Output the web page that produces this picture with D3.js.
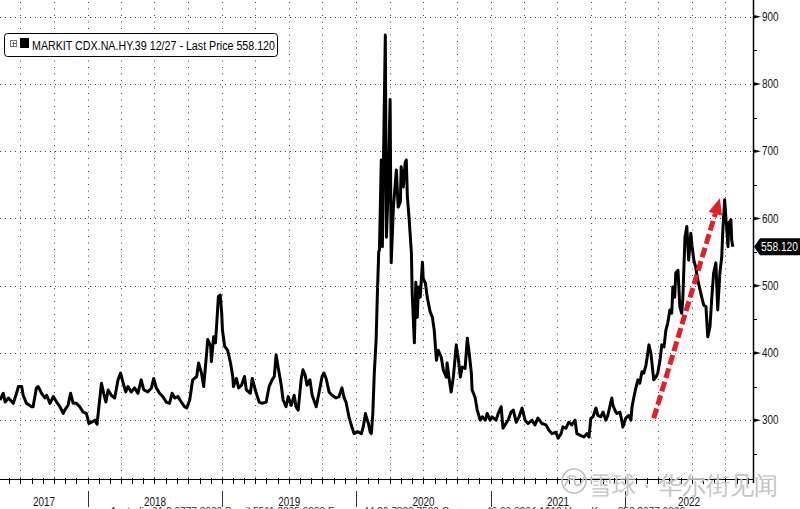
<!DOCTYPE html>
<html>
<head>
<meta charset="utf-8">
<script src="https://cdn.jsdelivr.net/npm/d3@7"></script>
<style>
  body { margin: 0; background: #fff; }
  svg { display: block; }
  text { font-family: "Liberation Sans Narrow", "Arial Narrow", "Liberation Sans", sans-serif; }
</style>
</head>
<body>
<div id="chart"></div>
<script>
const width = 800
const height = 509
const plotRight = 753
const plotBottom = 479

const title = 'MARKIT CDX.NA.HY.39 12/27 - Last Price 558.120'
const lastPrice = 558.12
const yTicks = [300, 400, 500, 600, 700, 800, 900]
const yMinor = [250, 350, 450, 550, 650, 750, 850]
const footer = 'Australia 61 2 9777 8600 Brazil 5511 2395 9000 Europe 44 20 7330 7500 Germany 49 69 9204 1210 Hong Kong 852 2977 6000'

const dates = [
  // 2017
  '2017-05-07', '2017-05-16', '2017-05-21', '2017-05-30', '2017-06-12', '2017-06-21', '2017-06-26', '2017-07-05',
  '2017-07-09', '2017-07-18', '2017-08-01', '2017-08-05', '2017-08-14', '2017-08-19', '2017-08-28', '2017-09-06',
  '2017-09-11', '2017-09-20', '2017-09-29', '2017-10-08', '2017-10-17', '2017-10-26', '2017-10-30', '2017-11-08',
  '2017-11-15', '2017-11-22', '2017-12-01', '2017-12-10', '2017-12-19', '2017-12-28',
  // 2018
  '2018-01-04', '2018-01-11', '2018-01-20', '2018-01-26', '2018-01-31', '2018-02-07', '2018-02-13', '2018-02-19',
  '2018-02-25', '2018-03-06', '2018-03-15', '2018-03-24', '2018-03-31', '2018-04-07', '2018-04-14', '2018-04-20',
  '2018-04-29', '2018-05-08', '2018-05-17', '2018-05-26', '2018-06-02', '2018-06-13', '2018-06-23', '2018-06-29',
  '2018-07-06', '2018-07-15', '2018-07-24', '2018-08-02', '2018-08-11', '2018-08-18', '2018-08-25', '2018-09-03',
  '2018-09-12', '2018-09-21', '2018-09-27', '2018-10-05', '2018-10-13', '2018-10-24', '2018-10-29', '2018-11-06',
  '2018-11-12', '2018-11-20', '2018-11-23', '2018-12-01', '2018-12-03', '2018-12-09', '2018-12-14', '2018-12-17',
  '2018-12-22', '2018-12-27', '2018-12-31',
  // 2019
  '2019-01-02', '2019-01-08', '2019-01-16', '2019-01-24', '2019-01-30', '2019-02-01', '2019-02-09', '2019-02-15',
  '2019-02-23', '2019-03-03', '2019-03-08', '2019-03-19', '2019-03-24', '2019-04-04', '2019-04-12', '2019-04-20',
  '2019-05-01', '2019-05-09', '2019-05-17', '2019-05-23', '2019-05-28', '2019-06-03', '2019-06-11', '2019-06-16',
  '2019-06-24', '2019-06-30', '2019-07-08', '2019-07-16', '2019-07-21', '2019-07-27', '2019-08-04', '2019-08-09',
  '2019-08-15', '2019-08-20', '2019-08-28', '2019-09-03', '2019-09-14', '2019-09-22', '2019-09-30', '2019-10-05',
  '2019-10-11', '2019-10-19', '2019-10-27', '2019-11-07', '2019-11-15', '2019-11-23', '2019-11-29', '2019-12-04',
  '2019-12-12', '2019-12-20', '2019-12-26',
  // 2020
  '2020-01-04', '2020-01-15', '2020-01-20', '2020-01-26', '2020-01-28', '2020-02-03', '2020-02-08', '2020-02-11',
  '2020-02-15', '2020-02-19', '2020-02-24', '2020-02-27', '2020-03-02', '2020-03-04', '2020-03-09', '2020-03-12',
  '2020-03-15', '2020-03-20', '2020-03-23', '2020-03-28', '2020-04-02', '2020-04-05', '2020-04-11', '2020-04-19',
  '2020-04-24', '2020-04-30', '2020-05-02', '2020-05-08', '2020-05-13', '2020-05-16', '2020-05-19', '2020-05-24',
  '2020-05-30', '2020-06-01', '2020-06-07', '2020-06-11', '2020-06-15', '2020-06-18', '2020-06-23', '2020-06-29',
  '2020-07-01', '2020-07-07', '2020-07-12', '2020-07-20', '2020-07-26', '2020-07-31', '2020-08-06', '2020-08-11',
  '2020-08-19', '2020-08-25', '2020-09-02', '2020-09-04', '2020-09-10', '2020-09-15', '2020-09-21', '2020-09-29',
  '2020-10-04', '2020-10-10', '2020-10-15', '2020-10-23', '2020-10-29', '2020-11-03', '2020-11-09', '2020-11-11',
  '2020-11-19', '2020-11-25', '2020-12-03', '2020-12-09', '2020-12-17', '2020-12-22', '2020-12-30',
  // 2021
  '2021-01-04', '2021-01-15', '2021-01-21', '2021-01-29', '2021-02-03', '2021-02-11', '2021-02-17', '2021-02-25',
  '2021-03-03', '2021-03-11', '2021-03-19', '2021-03-27', '2021-04-04', '2021-04-12', '2021-04-23', '2021-05-01',
  '2021-05-09', '2021-05-20', '2021-05-31', '2021-06-08', '2021-06-16', '2021-06-27', '2021-07-03', '2021-07-11',
  '2021-07-16', '2021-07-24', '2021-08-01', '2021-08-09', '2021-08-18', '2021-08-23', '2021-09-03', '2021-09-11',
  '2021-09-19', '2021-09-25', '2021-09-30', '2021-10-06', '2021-10-14', '2021-10-19', '2021-10-27', '2021-11-02',
  '2021-11-10', '2021-11-15', '2021-11-26', '2021-11-29', '2021-12-07', '2021-12-10', '2021-12-18', '2021-12-23',
  '2021-12-26',
  // 2022
  '2022-01-03', '2022-01-11', '2022-01-17', '2022-01-20', '2022-01-25', '2022-01-30', '2022-02-05', '2022-02-10',
  '2022-02-16', '2022-02-21', '2022-02-27', '2022-03-01', '2022-03-07', '2022-03-12', '2022-03-15', '2022-03-20',
  '2022-03-26', '2022-03-31', '2022-04-06', '2022-04-11', '2022-04-17', '2022-04-22', '2022-04-27', '2022-05-03',
  '2022-05-08', '2022-05-11', '2022-05-16', '2022-05-19', '2022-05-25', '2022-05-30', '2022-06-04', '2022-06-07',
  '2022-06-13', '2022-06-18', '2022-06-23', '2022-06-29', '2022-07-02', '2022-07-07', '2022-07-12', '2022-07-18',
  '2022-07-26', '2022-07-29', '2022-08-03', '2022-08-09', '2022-08-14', '2022-08-20', '2022-08-25', '2022-08-30',
  '2022-09-05', '2022-09-08', '2022-09-10', '2022-09-16', '2022-09-21', '2022-09-24', '2022-09-29', '2022-10-02',
  '2022-10-08', '2022-10-10', '2022-10-16', '2022-10-18', '2022-10-21'
]

const values = [
  // 2017
  330, 340, 327, 333, 325, 340, 350, 350,
  337, 325, 320, 320, 348, 350, 340, 333,
  337, 325, 335, 327, 320, 310, 315, 322,
  340, 325, 325, 320, 312, 310,
  // 2018
  295, 297, 300, 294, 320, 355, 340, 327,
  345, 337, 333, 360, 370, 355, 342, 350,
  342, 348, 340, 360, 345, 342, 348, 362,
  348, 340, 335, 327, 325, 340, 333, 335,
  327, 320, 318, 330, 360, 365, 385, 370,
  350, 400, 420, 410, 387, 424, 415, 439,
  484, 486, 459,
  // 2019
  434, 410, 404, 385, 365, 350, 362, 348,
  352, 365, 345, 340, 362, 340, 327, 325,
  327, 350, 360, 365, 397, 377, 352, 330,
  320, 335, 322, 337, 320, 315, 360, 375,
  367, 352, 360, 337, 320, 342, 365, 370,
  362, 342, 337, 333, 335, 348, 333, 327,
  305, 290, 280,
  // 2020
  283, 280, 290, 310, 305, 295, 282, 280,
  310, 370, 420, 480, 550, 553, 687, 558,
  687, 873, 572, 647, 777, 534, 617, 672,
  617, 625, 677, 647, 683, 687, 632, 598,
  548, 490, 415, 505, 453, 498, 483, 535,
  511, 504, 483, 461, 453, 434, 389, 404,
  394, 374, 364, 385, 360, 342, 364, 412,
  394, 364, 379, 377, 422, 400, 370, 345,
  334, 315, 300, 305, 300, 310, 300,
  // 2021
  305, 300, 310, 320, 288, 295, 300, 312,
  315, 297, 305, 318, 300, 295, 300, 293,
  303, 295, 293, 285, 280, 282, 273, 280,
  290, 288, 297, 293, 300, 280, 277, 275,
  280, 275, 303, 305, 318, 307, 305, 312,
  300, 307, 333, 322, 312, 310, 312, 300,
  290,
  // 2022
  303, 307, 300, 320, 334, 347, 360, 355,
  372, 370, 382, 389, 412, 400, 386, 360,
  364, 370, 389, 412, 409, 434, 444, 464,
  459, 498, 483, 519, 523, 469, 459, 479,
  572, 588, 538, 578, 560, 538, 528, 508,
  489, 482, 471, 469, 424, 439, 483, 519,
  534, 494, 464, 519, 543, 583, 628, 603,
  558, 593, 598, 568, 558.12
]

// red annotation arrow, in chart units
const arrowFrom = ['2022-03-20', 303]
const arrowTo = ['2022-09-16', 630]

const parse = d3.timeParse('%Y-%m-%d')
const data = dates.map((d, i) => ({ date: parse(d), value: values[i] }))

const svg = d3.select('#chart')
  .append('svg')
  .attr('width', width)
  .attr('height', height)

const x = d3.scaleTime()
  .domain([parse('2017-05-07'), parse('2022-12-15')])
  .range([0, plotRight])

const y = d3.scaleLinear()
  .domain([212.5, 925])
  .range([plotBottom, 0])

// narrow text: squeeze the sans glyphs to the reference widths
function narrow(sel, w) {
  sel.attr('textLength', w).attr('lengthAdjust', 'spacingAndGlyphs')
}

// dotted grid
svg.append('g')
  .selectAll('line')
  .data(yTicks)
  .enter().append('line')
  .attr('x1', 0)
  .attr('x2', plotRight)
  .attr('y1', d => Math.round(y(d)) + 0.5)
  .attr('y2', d => Math.round(y(d)) + 0.5)
  .attr('stroke', '#444')
  .attr('stroke-dasharray', '1,4')

const quarters = d3.timeMonth.every(3).range(x.domain()[0], x.domain()[1])
svg.append('g')
  .selectAll('line')
  .data(quarters)
  .enter().append('line')
  .attr('x1', d => Math.round(x(d)) + 0.5)
  .attr('x2', d => Math.round(x(d)) + 0.5)
  .attr('y1', 2)
  .attr('y2', plotBottom)
  .attr('stroke', '#444')
  .attr('stroke-dasharray', '1,5.5')

// footer line, mostly cut off by the bottom edge
svg.append('text')
  .attr('x', 110)
  .attr('y', 515)
  .attr('font-size', 11)
  .attr('fill', '#333')
  .text(footer)
  .call(narrow, 575)

// x axis with monthly ticks
const months = d3.timeMonth.range(x.domain()[0], x.domain()[1])
const xAxis = svg.append('g')
xAxis.append('line')
  .attr('x1', 0)
  .attr('x2', plotRight)
  .attr('y1', plotBottom + 0.5)
  .attr('y2', plotBottom + 0.5)
  .attr('stroke', '#000')
xAxis.selectAll('.mtick')
  .data(months)
  .enter().append('line')
  .attr('class', 'mtick')
  .attr('x1', d => Math.round(x(d)) + 0.5)
  .attr('x2', d => Math.round(x(d)) + 0.5)
  .attr('y1', plotBottom - 1)
  .attr('y2', plotBottom + 5)
  .attr('stroke', '#000')

// year separators and labels
const years = d3.timeYear.range(d3.timeYear.floor(x.domain()[0]), x.domain()[1])
xAxis.selectAll('.sep')
  .data(years.slice(1))
  .enter().append('line')
  .attr('class', 'sep')
  .attr('x1', d => Math.round(x(d)) + 0.5)
  .attr('x2', d => Math.round(x(d)) + 0.5)
  .attr('y1', 491)
  .attr('y2', 507)
  .attr('stroke', '#333')

xAxis.selectAll('.year')
  .data(years)
  .enter().append('text')
  .attr('class', 'year')
  .attr('x', d => {
    const a = Math.max(x(d), 0)
    const b = Math.min(x(d3.timeYear.offset(d, 1)), plotRight)
    return (a + b) / 2 - 11
  })
  .attr('y', 506)
  .attr('font-size', 12)
  .attr('fill', '#111')
  .text(d => d.getFullYear())
  .call(narrow, 22)

// right axis
const yAxis = svg.append('g')
yAxis.append('line')
  .attr('x1', plotRight + 0.5)
  .attr('x2', plotRight + 0.5)
  .attr('y1', 0)
  .attr('y2', plotBottom + 4)
  .attr('stroke', '#000')
  .attr('stroke-width', 1.5)

yAxis.selectAll('.major')
  .data(yTicks)
  .enter().append('path')
  .attr('class', 'major')
  .attr('d', d => {
    const yy = y(d)
    return `M${plotRight},${yy - 2}L${plotRight + 8},${yy}L${plotRight},${yy + 2}Z`
  })
  .attr('fill', '#000')

yAxis.selectAll('.minor')
  .data(yMinor)
  .enter().append('line')
  .attr('class', 'minor')
  .attr('x1', plotRight)
  .attr('x2', plotRight + 4)
  .attr('y1', d => Math.round(y(d)) + 0.5)
  .attr('y2', d => Math.round(y(d)) + 0.5)
  .attr('stroke', '#000')

yAxis.selectAll('.label')
  .data(yTicks)
  .enter().append('text')
  .attr('class', 'label')
  .attr('x', 762)
  .attr('y', d => y(d))
  .attr('dy', '0.35em')
  .attr('font-size', 12)
  .attr('fill', '#111')
  .text(d => d)
  .call(narrow, 16.5)

// series line
const line = d3.line()
  .x(d => x(d.date))
  .y(d => y(d.value))

svg.append('path')
  .datum(data)
  .attr('d', line)
  .attr('fill', 'none')
  .attr('stroke', '#000')
  .attr('stroke-width', 3)
  .attr('stroke-linejoin', 'round')

// last price tag
const ly = y(lastPrice)
svg.append('path')
  .attr('d', `M${plotRight + 1},${ly}L${plotRight + 7},${ly - 8.5}H800V${ly + 8.5}H${plotRight + 7}Z`)
  .attr('fill', '#000')
svg.append('text')
  .attr('x', 761)
  .attr('y', ly)
  .attr('dy', '0.35em')
  .attr('font-size', 12)
  .attr('fill', '#fff')
  .text(d3.format('.3f')(lastPrice))
  .call(narrow, 37)

// red dashed arrow
const ax1 = x(parse(arrowFrom[0])), ay1 = y(arrowFrom[1])
const ax2 = x(parse(arrowTo[0])), ay2 = y(arrowTo[1])
const len = Math.hypot(ax2 - ax1, ay2 - ay1)
const ux = (ax2 - ax1) / len, uy = (ay2 - ay1) / len
const headLen = 16, headHalf = 7
const bx = ax2 - ux * headLen, by = ay2 - uy * headLen
svg.append('line')
  .attr('x1', ax1)
  .attr('y1', ay1)
  .attr('x2', bx)
  .attr('y2', by)
  .attr('stroke', '#e31e26')
  .attr('stroke-width', 5)
  .attr('stroke-dasharray', '10,4')
svg.append('path')
  .attr('d', `M${ax2},${ay2}L${bx - uy * headHalf},${by + ux * headHalf}L${bx + uy * headHalf},${by - ux * headHalf}Z`)
  .attr('fill', '#e31e26')

// legend
const legend = svg.append('g')
legend.append('rect')
  .attr('x', 4.5)
  .attr('y', 33.5)
  .attr('width', 273)
  .attr('height', 23)
  .attr('rx', 3)
  .attr('fill', '#fff')
  .attr('stroke', '#000')
legend.append('rect')
  .attr('x', 10.5)
  .attr('y', 40.5)
  .attr('width', 6)
  .attr('height', 6)
  .attr('fill', 'none')
  .attr('stroke', '#777')
legend.append('path')
  .attr('d', 'M12,43.5H16M13.5,42V46')
  .attr('stroke', '#777')
legend.append('rect')
  .attr('x', 20)
  .attr('y', 38)
  .attr('width', 9)
  .attr('height', 10)
  .attr('fill', '#000')
legend.append('text')
  .attr('x', 32)
  .attr('y', 49.5)
  .attr('font-size', 12)
  .attr('fill', '#000')
  .text(title)
  .call(narrow, 243)

// watermark
const wm = svg.append('g').attr('fill', 'none').attr('stroke', '#bdbdbd')
wm.append('circle')
  .attr('cx', 574)
  .attr('cy', 481)
  .attr('r', 12)
  .attr('stroke-width', 1.6)
wm.append('path')
  .attr('d', 'M565,486c3,-9 10,-9 10,-3c0,4 6,4 9,-6M567,478c3,-3 7,-3 9,0')
  .attr('stroke-width', 1.6)
svg.append('text')
  .attr('x', 588)
  .attr('y', 494)
  .attr('font-family', '"Noto Sans CJK SC", sans-serif')
  .attr('font-size', 25)
  .attr('font-weight', 300)
  .attr('fill', '#c4c4c4')
  .text('雪球 · 华尔街见闻')
  .call(narrow, 190)
</script>
</body>
</html>
